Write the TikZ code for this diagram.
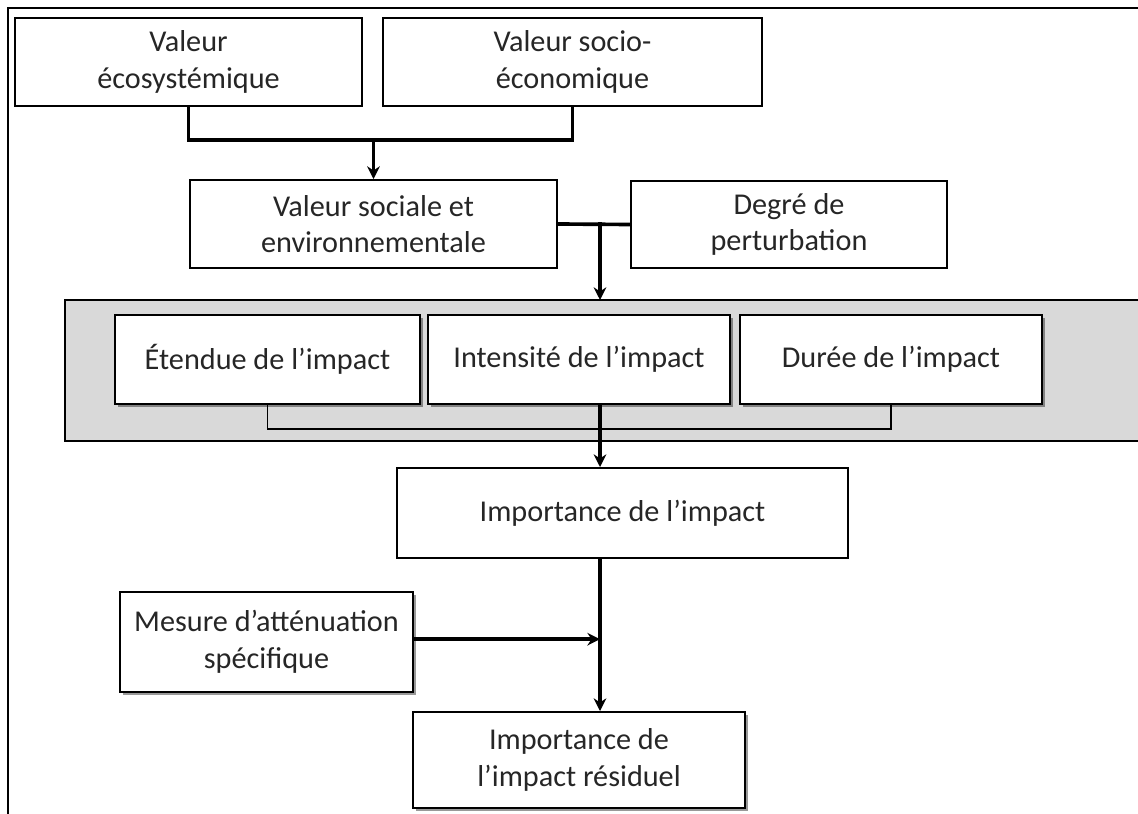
\documentclass[tikz,border=0pt]{standalone}
\usepackage{fontspec}
\setmainfont{Carlito}
\usetikzlibrary{shadows, arrows.meta}
\begin{document}
\begin{tikzpicture}[x=0.025cm, y=-0.025cm, line cap=rect, line join=miter, >={Stealth[length=9pt, width=9pt]},
	font=\fontsize{21.5}{26}\selectfont,
	taille/.style 2 args={minimum width=#1*0.025cm, minimum height=#2*0.025cm},
	boite/.style={draw=black, line width=1.4pt, fill=white, align=center, text=black!85, inner sep=0pt},
	ombre/.style={boite, drop shadow={shadow xshift=2pt, shadow yshift=-2pt, opacity=0.4, fill=black}},
	lien/.style={line width=2.6pt},
	fin/.style={line width=1.2pt}]
	% 1. Cadre et zone grise
	\useasboundingbox (0,0) rectangle (1138,814);
	\clip (0,0) rectangle (1138,814);
	\draw[line width=1.3pt] (8,820) -- (8,8) -- (1145,8);
	\filldraw[fill=black!15, draw=black, line width=0.8pt] (65,300) rectangle (1145,441);
	\coordinate (spine) at (600,0);
	
	% 2. Les valeurs
	\node[boite, taille={347}{88}] (eco) at (188.5,62) {Valeur\\écosystémique};
	\node[boite, taille={379}{88}] (socio) at (572.5,62) {Valeur socio-\\économique};
	\node[boite, taille={367}{88}] (sociale) at (373.5,224) {Valeur sociale et\\environnementale};
	\node[boite, taille={316}{87}] (degre) at (789,224.5) {Degré de\\perturbation};
	
	% 3. Les critères dans la zone grise
	\node[ombre, taille={305}{89}] (etendue) at (267.5,359.5) {Étendue de l’impact};
	\node[ombre, taille={302}{89}] (intensite) at (579,359.5) {Intensité de l’impact};
	\node[ombre, taille={302}{89}] (duree) at (891,359.5) {Durée de l’impact};
	
	% 4. Importance et atténuation
	\node[boite, taille={451}{90}] (importance) at (622.5,513) {Importance de l’impact};
	\node[ombre, taille={293}{100}] (mesure) at (266.5,642) {Mesure d’atténuation\\spécifique};
	\node[ombre, taille={332}{96}] (residuel) at (579,760) {Importance de\\l’impact résiduel};
	
	% 5. Les liens
	\draw[lien] (eco.south) -- ++(0,33) coordinate (j1) -| (socio.south);
	\draw[lien, ->] (j1 -| sociale.north) -- (sociale.north);
	\draw[lien] (sociale.east) -- (degre.west);
	\draw[lien, ->] (sociale.east -| spine) -- (600,300);
	\draw[fin] (etendue.south) -- ++(0,24) -| (duree.south);
	\draw[lien, ->] (intensite.south -| spine) -- (importance.north -| spine);
	\draw[lien, ->] (importance.south -| spine) -- (residuel.north -| spine);
	\draw[lien, ->] ([yshift=2pt]mesure.east) -- ([yshift=2pt]mesure.east -| spine);
\end{tikzpicture}
\end{document}
